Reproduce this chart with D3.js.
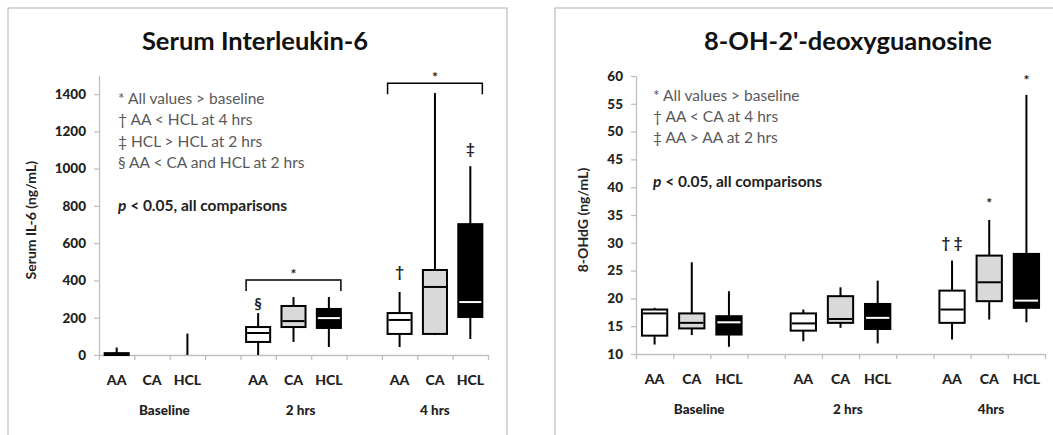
<!DOCTYPE html>
<html><head><meta charset="utf-8">
<script src="https://cdn.jsdelivr.net/npm/d3@7"></script>
<style>
body{margin:0;background:#fff;}
svg{display:block;font-family:Lato,"Open Sans",sans-serif;}
</style></head>
<body><svg id="c" width="1053" height="435"></svg>
<script>
// ---------- DATA ----------
const categories = ["AA", "CA", "HCL"];
const groupsL = ["Baseline", "2 hrs", "4 hrs"];
const groupsR = ["Baseline", "2 hrs", "4hrs"];

// Serum IL-6 (ng/mL): order Baseline AA,CA,HCL, 2hrs AA,CA,HCL, 4hrs AA,CA,HCL
const il6Min = [0, null, 0, 0, 70, 43, 43, 107, 86];
const il6Q1  = [0, null, 0, 70, 150, 145, 113, 113, 204];
const il6Med = [4, null, 0, 118, 182, 198, 188, 365, 284];
const il6Q3  = [10, null, 0, 150, 263, 247, 225, 456, 702];
const il6Max = [40, null, 115, 225, 311, 311, 338, 1405, 1013];
const il6Ticks = [0, 200, 400, 600, 800, 1000, 1200, 1400];

// 8-OHdG (ng/mL)
const ohMin = [11.7, 13.4, 11.3, 12.3, 14.7, 11.9, 12.6, 16.2, 15.7];
const ohQ1  = [13.3, 14.6, 13.5, 14.2, 15.6, 14.5, 15.6, 19.5, 18.3];
const ohMed = [17.3, 15.6, 15.7, 15.5, 16.3, 16.5, 18.0, 22.9, 19.6];
const ohQ3  = [18.0, 17.3, 16.8, 17.3, 20.4, 19.0, 21.4, 27.7, 28.0];
const ohMax = [18.3, 26.5, 21.3, 18.0, 22.0, 23.2, 26.8, 34.1, 56.6];
const ohTicks = [10, 15, 20, 25, 30, 35, 40, 45, 50, 55, 60];

const legendL = ["* All values > baseline", "\u2020 AA < HCL at 4 hrs", "\u2021 HCL > HCL at 2 hrs", "\u00a7 AA < CA and HCL at 2 hrs"];
const legendR = ["* All values > baseline", "\u2020 AA < CA at 4 hrs", "\u2021 AA > AA at 2 hrs"];

// annotations: [box index, symbol, value level]
const annotL = [[3, "\u00a7", 245], [6, "\u2020", 420], [8, "\u2021", 1080]];
const annotR = [[6, "\u2020 \u2021", 29.0], [7, "*", 36.2], [8, "*", 58.3]];
// brackets: [group index, value level]
const bracketsL = [[1, 402], [2, 1458]];

// ---------- DRAW ----------
const svg = d3.select("#c");
const fills = ["#ffffff", "#d9d9d9", "#000000"];
const medCol = ["#000", "#000", "#fff"];

function slotOf(i) { const g = Math.floor(i / 3); return g * 4 + (i % 3); }

function panel(o) {
  const g = svg.append("g");
  g.append("rect").attr("x", o.bx).attr("y", 8).attr("width", o.bw).attr("height", 460)
    .attr("fill", "none").attr("stroke", "#b0b0b0").attr("stroke-width", 1);

  const y = d3.scaleLinear().domain(o.ydom).range([o.y0, o.y1]);
  const xl = d3.scaleLinear().domain([0, 11]).range([o.x0, o.x1]);
  const xc = s => xl(s + 0.5);
  const bw = (xl(1) - xl(0)) * 0.68;

  g.append("text").attr("x", o.tx).attr("y", 50).attr("text-anchor", "middle")
    .attr("font-size", 25.5).attr("font-weight", "bold").attr("fill", "#111").text(o.title);

  const ya = g.append("g").attr("transform", `translate(${o.x0},0)`)
    .call(d3.axisLeft(y).tickValues(o.ticks).tickSize(5).tickSizeOuter(0).tickPadding(8).tickFormat(d3.format("d")));
  ya.selectAll("path,line").attr("stroke", "#bfbfbf").attr("stroke-width", 1.3);
  ya.selectAll("text").attr("font-size", 13.5).attr("font-weight", "900").attr("fill", "#222")
    .attr("font-family", "Lato");

  const xa = g.append("g").attr("transform", `translate(0,${o.y0})`)
    .call(d3.axisBottom(xl).tickValues(d3.range(0, 12)).tickSize(5).tickSizeOuter(0).tickFormat(""));
  xa.selectAll("path,line").attr("stroke", "#bfbfbf").attr("stroke-width", 1.3);

  g.append("text").attr("transform", `translate(${o.ylx},${(o.y0 + o.y1) / 2 + 5}) rotate(-90)`)
    .attr("text-anchor", "middle").attr("font-size", 14).attr("font-weight", "bold").attr("fill", "#222")
    .text(o.ylab);

  for (let i = 0; i < 9; i++) {
    g.append("text").attr("x", xc(slotOf(i))).attr("y", o.y0 + 30).attr("text-anchor", "middle")
      .attr("font-size", 14).attr("font-weight", "900").attr("fill", "#222").text(categories[i % 3]);
  }
  o.groups.forEach((name, k) => {
    g.append("text").attr("x", xl(k * 4 + o.goff[k])).attr("y", o.y0 + 60).attr("text-anchor", "middle")
      .attr("font-size", 13.5).attr("font-weight", "900").attr("fill", "#222").text(name);
  });

  o.legend.forEach((t, k) => {
    g.append("text").attr("x", o.lx).attr("y", o.ly + k * o.lstep).attr("font-size", 15.5)
      .attr("fill", "#595959").text(t);
  });
  const p = g.append("text").attr("x", o.lx).attr("y", o.py).attr("font-size", 15.5)
    .attr("font-weight", "bold").attr("fill", "#222");
  p.append("tspan").attr("font-style", "italic").text("p");
  p.append("tspan").text(" < 0.05, all comparisons");

  for (let i = 0; i < 9; i++) {
    if (o.mn[i] == null) continue;
    const cx = xc(slotOf(i));
    const c = i % 3;
    g.append("line").attr("x1", cx).attr("x2", cx).attr("y1", y(o.mn[i])).attr("y2", y(o.mx[i]))
      .attr("stroke", "#000").attr("stroke-width", 2);
    if (o.q3[i] > o.q1[i]) {
      g.append("rect").attr("x", cx - bw / 2).attr("width", bw)
        .attr("y", y(o.q3[i])).attr("height", y(o.q1[i]) - y(o.q3[i]))
        .attr("fill", fills[c]).attr("stroke", "#000").attr("stroke-width", 2);
      g.append("line").attr("x1", cx - bw / 2 + 1).attr("x2", cx + bw / 2 - 1)
        .attr("y1", y(o.md[i])).attr("y2", y(o.md[i]))
        .attr("stroke", medCol[c]).attr("stroke-width", 2);
    }
  }

  o.annot.forEach(([i, s, v]) => {
    g.append("text").attr("x", xc(slotOf(i))).attr("y", y(v)).attr("text-anchor", "middle")
      .attr("font-size", s === "*" ? 14 : 15).attr("font-weight", "bold").attr("fill", "#222").text(s);
  });

  (o.brackets || []).forEach(([k, v]) => {
    const l = xc(k * 4) - bw / 2, r = xc(k * 4 + 2) + bw / 2, yy = y(v);
    g.append("path").attr("d", `M${l},${yy + 11}V${yy}H${r}V${yy + 11}`)
      .attr("fill", "none").attr("stroke", "#000").attr("stroke-width", 1.5);
    g.append("text").attr("x", (l + r) / 2).attr("y", yy - 1).attr("text-anchor", "middle")
      .attr("font-size", 14).attr("font-weight", "bold").attr("fill", "#222").text("*");
  });
}

panel({
  bx: 8, bw: 499, title: "Serum Interleukin-6", tx: 255,
  ydom: [0, 1500], y0: 355, y1: 75.4, x0: 99, x1: 488, ticks: il6Ticks,
  ylab: "Serum IL-6 (ng/mL)", ylx: 36, groups: groupsL, goff: [1.85, 1.7, 1.5],
  legend: legendL, lx: 118, ly: 104, lstep: 21.3, py: 211,
  mn: il6Min, q1: il6Q1, md: il6Med, q3: il6Q3, mx: il6Max,
  annot: annotL, brackets: bracketsL
});
panel({
  bx: 555, bw: 600, title: "8-OH-2'-deoxyguanosine", tx: 848,
  ydom: [10, 60], y0: 354, y1: 76, x0: 636, x1: 1045, ticks: ohTicks,
  ylab: "8-OHdG (ng/mL)", ylx: 588, groups: groupsR, goff: [1.7, 1.7, 1.55],
  legend: legendR, lx: 653, ly: 101, lstep: 21, py: 187,
  mn: ohMin, q1: ohQ1, md: ohMed, q3: ohQ3, mx: ohMax,
  annot: annotR
});
</script></body></html>
